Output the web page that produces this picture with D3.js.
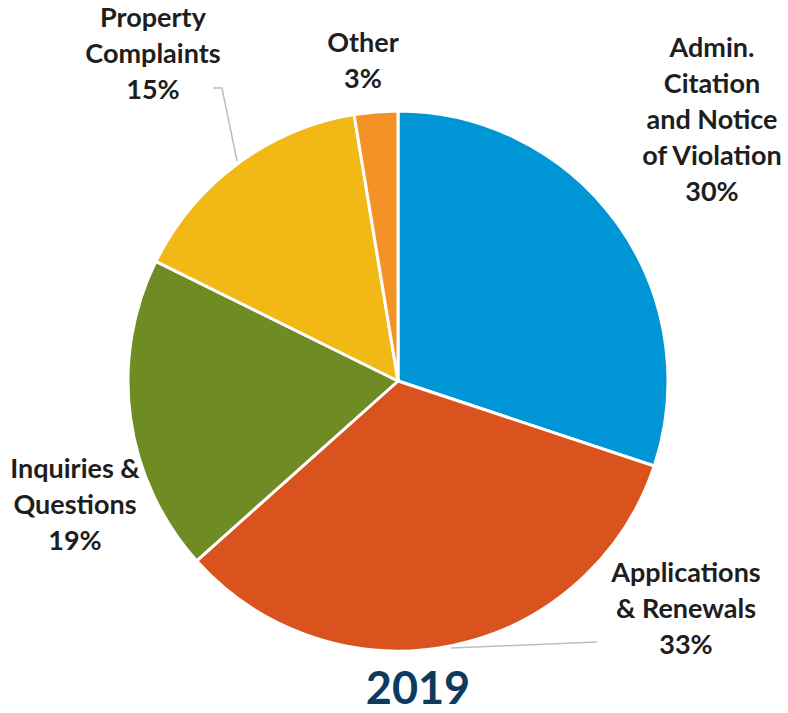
<!DOCTYPE html>
<html><head><meta charset="utf-8">
<script src="https://cdn.jsdelivr.net/npm/d3@7"></script>
<style>body{margin:0;background:#fff}</style>
</head><body>
<svg id="c" width="788" height="713"></svg>
<script>
const categories = ["Admin. Citation and Notice of Violation","Applications & Renewals","Inquiries & Questions","Property Complaints","Other"];
const values = [30.1, 33.3, 18.9, 15.1, 2.6];
const pctLabels = ["30%","33%","19%","15%","3%"];
const colors = ["#0096D6","#DA531F","#6E8B24","#F2B816","#F39325"];
const title = "2019";

const svg = d3.select("#c");
const cx = 398, cy = 381, r = 270;
const pie = d3.pie().sort(null).value(d=>d.v);
const arcs = pie(values.map((v,i)=>({v,i})));
const arc = d3.arc().innerRadius(0).outerRadius(r);
const g = svg.append("g").attr("transform",`translate(${cx},${cy})`);
g.selectAll("path").data(arcs).enter().append("path")
  .attr("d",arc).attr("fill",d=>colors[d.data.i])
  .attr("stroke","#fff").attr("stroke-width",3).attr("stroke-linejoin","round");

const labelLines = [
  {lines:["Admin.","Citation","and Notice","of Violation"], x:712, y:57},
  {lines:["Applications","& Renewals"], x:686, y:582},
  {lines:["Inquiries &","Questions"], x:75, y:478},
  {lines:["Property","Complaints"], x:153, y:27},
  {lines:["Other"], x:363, y:52}
];
const fs = 27, lh = 36;
labelLines.forEach((L,i)=>{
  const t = svg.append("text").attr("text-anchor","middle")
    .attr("font-family","Lato, 'Open Sans', sans-serif").attr("font-weight","bold")
    .attr("font-size",fs).attr("fill","#1e1e1e");
  const all = L.lines.concat([pctLabels[i]]);
  all.forEach((s,k)=>{
    t.append("tspan").attr("x",L.x).attr("y",L.y+k*lh).text(s);
  });
});

const lineGen = d3.line();
svg.append("path").attr("d",lineGen([[213,88],[222,88],[237,161]]))
  .attr("fill","none").attr("stroke","#bdbdbd").attr("stroke-width",1.5);
svg.append("path").attr("d",lineGen([[451,648],[597,642]]))
  .attr("fill","none").attr("stroke","#bdbdbd").attr("stroke-width",1.5);

svg.append("text").attr("x",418).attr("y",704).attr("text-anchor","middle")
  .attr("font-family","Lato, 'Open Sans', sans-serif").attr("font-weight","bold")
  .attr("font-size",45).attr("fill","#0E3A5E").text(title);
</script>
</body></html>
